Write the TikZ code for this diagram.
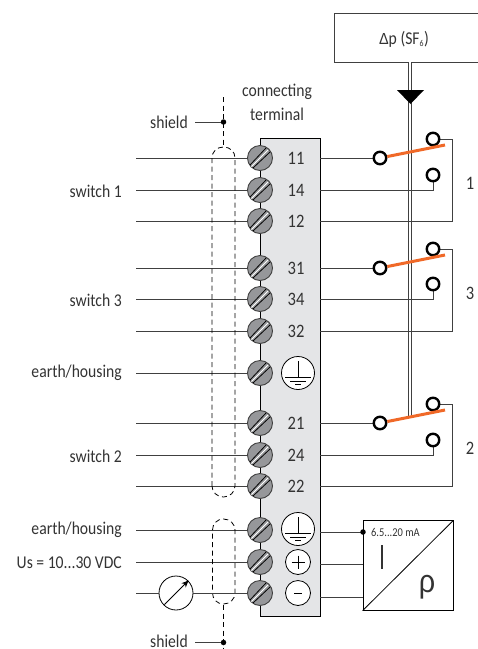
\documentclass[tikz,border=0pt]{standalone}
\usepackage{fontspec}
\setmainfont{Carlito}[FakeStretch=0.87]
\newfontfamily\gkfont{Liberation Sans}[FakeStretch=0.9]
\usetikzlibrary{arrows.meta,calc}
\definecolor{wire}{gray}{0.25}
\definecolor{panel}{RGB}{228,229,231}
\definecolor{screw}{RGB}{150,151,154}
\definecolor{txt}{gray}{0.2}
\definecolor{lever}{RGB}{240,105,40}
\tikzset{
 wireline/.style={draw=wire,line width=0.9pt},
 dashline/.style={draw=black,line width=0.8pt,dash pattern=on 5pt off 3.5pt},
 lbl/.style={text=txt,font=\fontsize{18}{19}\selectfont,inner sep=0pt},
 num/.style={text=txt,font=\fontsize{19}{20}\selectfont,inner sep=0pt},
 contact/.style={circle,draw=black,line width=2.4pt,fill=white,minimum size=12.5pt,inner sep=0pt},
 dot/.style={circle,fill=black,minimum size=5.5pt,inner sep=0pt},
 symb/.style={circle,draw=black,line width=0.8pt,fill=white,inner sep=0pt},
 dbl/.style={draw=wire,line width=0.9pt,double=white,double distance=1.8pt},
}
\newcommand{\screwat}[3]{%
 \node[circle,draw=wire,line width=0.9pt,fill=screw,minimum size=25pt,inner sep=0pt] (#1) at (#2,#3) {};
 \draw[black,line width=0.8pt] ($(#1)+(-10,7)$) -- ($(#1)+(6,-10)$);
 \draw[white,line width=0.9pt] ($(#1)+(-8.5,8.5)$) -- ($(#1)+(8,-8)$);
 \draw[black,line width=0.8pt] ($(#1)+(-7,10)$) -- ($(#1)+(10,-6)$);
}
\newcommand{\rowleft}[3]{\coordinate (L#1) at (#2,#3); \draw[wireline] (L#1) -- (#1);}
\begin{document}
\begin{tikzpicture}[x=1pt,y=-1pt]
\useasboundingbox (0,0) rectangle (478,649);
% terminal block
\node[draw=black,line width=0.9pt,fill=panel,minimum width=60pt,minimum height=478pt,inner sep=0pt,anchor=north west] (block) at (260,138) {};
% dp box
\draw[draw=wire,line width=0.9pt] (478,13) -- (334,13) -- (334,62) -- (478,62);
\node[lbl] (dp) at (404,39) {{\gkfont\fontsize{16}{18}\selectfont Δ}p (SF\textsubscript{\fontsize{9}{9}\selectfont 6})};
% mechanical link
\coordinate (linkend) at (410,418);
\coordinate (dpout) at (410,62);
\draw[dbl] (dpout) -- (linkend);
\fill[black] (397,90) -- (424,90) -- (410.5,104) -- cycle;
% left wires and screws
\foreach \n/\y in {s11/158,s14/190,s12/221,s31/268,s34/299,s32/331,sE1/373,s21/423,s24/455,s22/486,sE2/530,sP/562,sM/593}{\screwat{\n}{260}{\y}}
\foreach \n/\y in {s11/158,s14/190,s12/221,s31/268,s34/299,s32/331,sE1/373,s21/423,s24/455,s22/486,sE2/530,sP/562}{\rowleft{\n}{136}{\y}}
% shield capsules
\draw[dashline] (212,486) -- (212,158) .. controls (212,151.5) and (217,147) .. (223.5,147) .. controls (230,147) and (235,151.5) .. (235,158) -- (235,486) .. controls (235,492) and (230,497) .. (223.5,497) .. controls (217,497) and (212,492) .. (212,486);
\draw[dashline] (212.5,530) .. controls (212.5,524) and (217,519) .. (223.5,519) .. controls (230,519) and (235,524) .. (235,530) -- (235,593) .. controls (235,599) and (230,604) .. (223.5,604) .. controls (217,604) and (212.5,599) .. (212.5,593) -- cycle;
\coordinate (shA) at (223.5,97); \coordinate (shB) at (223.5,146);
\draw[dashline] (shA) -- (shB);
\coordinate (shC) at (223.5,605); \coordinate (shD) at (223.5,649);
\draw[dashline] (shC) -- (shD);
\node[dot] (d1) at (223.5,122) {};
\node[dot] (d2) at (223.5,642.5) {};
% labels left
\node[lbl,anchor=east] at (122,191) {switch 1};
\node[lbl,anchor=east] at (122,300) {switch 3};
\node[lbl,anchor=east] at (122,373) {earth/housing};
\node[lbl,anchor=east] at (122,456) {switch 2};
\node[lbl,anchor=east] at (122,530) {earth/housing};
\node[lbl,anchor=east] at (122,563) {Us = 10...30 VDC};
\node[lbl,anchor=east] (shT) at (188,122) {shield};
\node[lbl,anchor=east] (shBt) at (188,641) {shield};
\coordinate (wT) at (195,122); \coordinate (wB) at (195,642.5);
\draw[wireline] (wT) -- (d1);
\draw[wireline] (wB) -- (d2);
\node[lbl] at (277,92) {connecting};
\node[lbl] at (277,114) {terminal};
% meter
\node[circle,draw=black,line width=0.8pt,fill=white,minimum size=34pt,inner sep=0pt] (meter) at (176,593) {};
\coordinate (Us) at (136,593);
\draw[wireline] (Us) -- (meter);
\draw[wireline] (meter) -- (sM);
\draw[-{Stealth[length=7pt,width=6pt]},black,line width=0.8pt] ($(meter)+(-11.5,11.5)$) -- ($(meter)+(12.5,-12.5)$);
% numbers
\foreach \t/\y in {11/158,14/190,12/221,31/268,34/299,32/331,21/423,24/455,22/486}{\node[num] at (296,\y) {\t};}
% symbols
\node[symb,minimum size=33pt] (E1) at (298,373) {};
\node[symb,minimum size=33pt] (E2) at (298,529) {};
\foreach \e in {E1,E2}{
 \draw[black,line width=0.7pt] ($(\e)+(0,-12)$) -- ($(\e)+(0,4)$);
 \draw[black,line width=0.7pt] ($(\e)+(-13,4)$) -- ($(\e)+(13,4)$);
 \draw[black,line width=0.7pt] ($(\e)+(-8,8)$) -- ($(\e)+(8,8)$);
 \draw[black,line width=0.7pt] ($(\e)+(-3,11.5)$) -- ($(\e)+(3,11.5)$);
}
\node[symb,minimum size=25pt] (P) at (298,562) {};
\draw[black,line width=0.9pt] ($(P)+(-6.5,0)$) -- ($(P)+(6.5,0)$) ($(P)+(0,-6.5)$) -- ($(P)+(0,6.5)$);
\node[symb,minimum size=25pt] (M) at (298,593) {};
\draw[black,line width=0.9pt] ($(M)+(-4,0)$) -- ($(M)+(4,0)$);
% switch groups
\foreach \g/\ya/\yb/\yc/\ym/\yd/\lab in {A/158/139/175/190/221/1,B/268/249/284/299/331/3,C/423/404/440/455/486/2}{
 \coordinate (c\g) at (380,\ya);
 \coordinate (up\g) at (433,\yb);
 \coordinate (lo\g) at (433,\yc);
 \draw[wireline] (320,\ya) -- (c\g);
 \draw[wireline] (320,\ym) -- (433,\ym) -- (lo\g);
 \draw[wireline] (up\g) -- (452,\yb) -- (452,\yd) -- (320,\yd);
 \node[contact] (na\g) at (c\g) {};
 \node[contact] (nb\g) at (up\g) {};
 \node[contact] (nc\g) at (lo\g) {};
 \draw[lever,line width=3pt] (na\g) -- ($(up\g)+(12,6)$);
 \node[num] at (470,\yb+44) {\lab};
}
% transducer
\node[draw=black,line width=0.9pt,fill=white,minimum width=90pt,minimum height=89.5pt,inner sep=0pt] (tr) at (408,565.5) {};
\draw[black,line width=0.8pt] (tr.south west) -- (tr.north east);
\coordinate (trA) at (363,532); \coordinate (trB) at (363,564); \coordinate (trC) at (363,597);
\draw[wireline] (320,532) -- (trA);
\draw[wireline] (320,564) -- (trB);
\draw[wireline] (320,597) -- (trC);
\node[dot] at (trA) {};
\node[inner sep=0pt,anchor=west,text=txt,font=\fontsize{12}{13}\selectfont] at (371,532) {6.5...20 mA};
\draw[txt,line width=2pt] (382,545) -- (382,569);
\node[text=txt,font=\gkfont\fontsize{32}{32}\selectfont,inner sep=0pt] at (427,587) {ρ};
\end{tikzpicture}
\end{document}
